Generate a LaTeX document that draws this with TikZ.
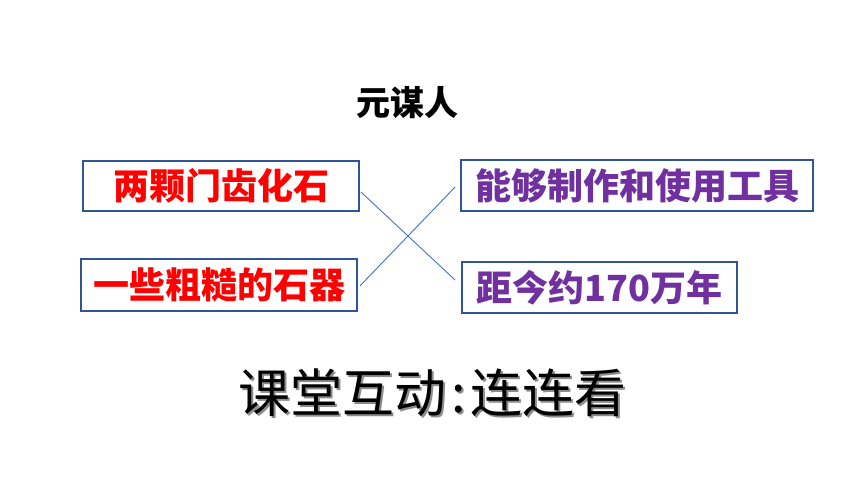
\documentclass[tikz,border=0pt]{standalone}
\usepackage{fontspec}
\newfontfamily\cjk{Noto Sans CJK SC}
\definecolor{boxblue}{RGB}{47,85,151}
\definecolor{linkblue}{RGB}{68,114,196}
\definecolor{itemred}{RGB}{255,0,0}
\definecolor{itempurple}{RGB}{112,48,160}
\tikzset{
  itembox/.style={draw=boxblue, line width=1.8pt, fill=white, rectangle, inner sep=0pt,
    font=\cjk\bfseries\fontsize{36}{40}\selectfont},
  redtext/.style={text=itemred},
  purpletext/.style={text=itempurple},
  link/.style={draw=linkblue, line width=0.9pt},
  titletext/.style={font=\cjk\bfseries\fontsize{34}{38}\selectfont, inner sep=0pt},
  bigtext/.style={font=\cjk\fontsize{52}{56}\selectfont, inner sep=0pt}
}
\newcommand{\bottomline}{课堂互动\hspace{5pt}:\hspace{5pt}连连看}
\begin{document}
\begin{tikzpicture}[x=1pt,y=-1pt]
\useasboundingbox[fill=white] (0,0) rectangle (860,484);
\node[titletext] (title) at (407,103) {元谋人};
\node[itembox, redtext, minimum width=276pt, minimum height=50pt] (b1) at (221,186) {两颗门齿化石};
\node[itembox, redtext, minimum width=276pt, minimum height=52pt] (b2) at (219,285) {一些粗糙的石器};
\node[itembox, purpletext, minimum width=352pt, minimum height=51pt] (b3) at (637,185.5) {能够制作和使用工具};
\node[itembox, purpletext, minimum width=275pt, minimum height=51pt] (b4) at (599.5,287.5) {距今约170万年};
\draw[link] ([xshift=1pt,yshift=-6pt]b1.east) -- ([xshift=-6pt,yshift=7.5pt]b4.west);
\draw[link] ([xshift=2pt,yshift=-1pt]b2.east) -- ([xshift=-5pt,yshift=-1.5pt]b3.west);
\node[bigtext, text=black!45] (shadow) at (434.5,394.5) {\bottomline};
\node[bigtext, text=black] (bottom) at (432.5,392.5) {\bottomline};
\end{tikzpicture}
\end{document}
